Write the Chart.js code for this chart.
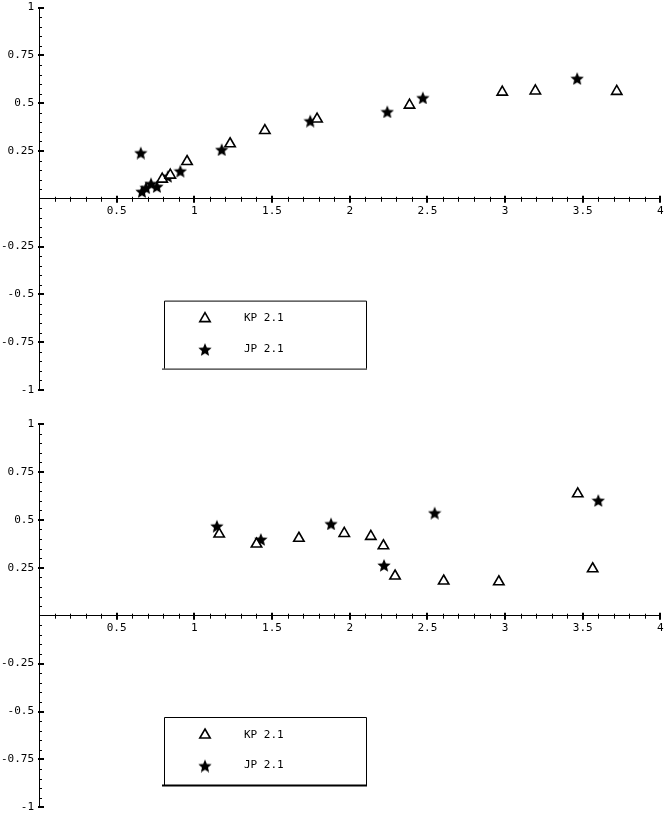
<!DOCTYPE html>
<html>
<head>
<meta charset="utf-8">
<script src="https://cdn.jsdelivr.net/npm/chart.js@4.4.1/dist/chart.umd.min.js"></script>
<style>
  body { margin: 0; background: #fff; }
  canvas { position: absolute; left: 0; }
</style>
</head>
<body>
<canvas id="topChart" width="668" height="405" style="top:0"></canvas>
<canvas id="bottomChart" width="668" height="410" style="top:405px"></canvas>
<script>
// legend names
const seriesNames = ["KP 2.1", "JP 2.1"];

// upper panel, [x, y]
const topKP = [
  [0.793, 0.103], [0.845, 0.124], [0.953, 0.195], [1.230, 0.288], [1.454, 0.357],
  [1.790, 0.417], [2.385, 0.490], [2.982, 0.558], [3.195, 0.564], [3.719, 0.562]
];
const topJP = [
  [0.655, 0.242], [0.663, 0.040], [0.689, 0.060], [0.721, 0.081], [0.759, 0.066],
  [0.829, 0.119], [0.910, 0.147], [1.176, 0.259], [1.746, 0.409], [2.242, 0.457],
  [2.471, 0.530], [3.464, 0.631]
];

// lower panel, [x, y]
const bottomKP = [
  [1.160, 0.426], [1.400, 0.374], [1.673, 0.404], [1.965, 0.429], [2.136, 0.414],
  [2.217, 0.365], [2.292, 0.207], [2.605, 0.181], [2.960, 0.177], [3.468, 0.636],
  [3.564, 0.245]
];
const bottomJP = [
  [1.145, 0.469], [1.428, 0.400], [1.880, 0.481], [2.221, 0.265], [2.547, 0.538],
  [3.600, 0.603]
];

// labelled ticks (minor ticks come from stepSize)
const xTickLabels = [0.5, 1, 1.5, 2, 2.5, 3, 3.5, 4];
const yTickLabels = [-1, -0.75, -0.5, -0.25, 0.25, 0.5, 0.75, 1];

const tickFont = { family: "DejaVu Sans Mono", size: 11 };

function starImage(size) {
  const c = document.createElement("canvas");
  c.width = c.height = size;
  const g = c.getContext("2d");
  const R = size / 2, r = R * 0.45;
  g.beginPath();
  for (let i = 0; i < 10; i++) {
    const a = -Math.PI / 2 + i * Math.PI / 5;
    const rr = i % 2 ? r : R;
    g.lineTo(R + rr * Math.cos(a), R + 1 + rr * Math.sin(a));
  }
  g.closePath();
  g.fillStyle = "#000";
  g.fill();
  return c;
}
const star = starImage(14);

function findLabel(v, list) {
  const m = list.find(t => Math.abs(t - v) < 1e-6);
  return m === undefined ? "" : String(m);
}

// tick marks crossing the axes, Mathematica style
const axisTicks = {
  id: "axisTicks",
  afterDraw(chart) {
    const { ctx, scales } = chart;
    const x0 = scales.x.getPixelForValue(0);
    const y0 = scales.y.getPixelForValue(0);
    ctx.save();
    ctx.strokeStyle = "#000";
    scales.x.ticks.forEach(t => {
      const px = Math.round(scales.x.getPixelForValue(t.value));
      const major = findLabel(t.value, xTickLabels) !== "";
      if (t.value === 0) return;
      ctx.lineWidth = major ? 2 : 1;
      ctx.beginPath();
      ctx.moveTo(px + (major ? 0 : 0.5), y0 - (major ? 3 : 2));
      ctx.lineTo(px + (major ? 0 : 0.5), y0 + (major ? 4 : 3));
      ctx.stroke();
    });
    scales.y.ticks.forEach(t => {
      const py = Math.round(scales.y.getPixelForValue(t.value));
      const major = findLabel(t.value, yTickLabels) !== "";
      if (t.value === 0) return;
      ctx.lineWidth = major ? 2 : 1;
      ctx.beginPath();
      ctx.moveTo(x0 - (major ? 1 : 0), py + (major ? 0 : 0.5));
      ctx.lineTo(x0 + (major ? 5 : 3), py + (major ? 0 : 0.5));
      ctx.stroke();
    });
    ctx.restore();
  }
};

const legendBox = {
  id: "legendBox",
  afterDraw(chart, args, opts) {
    const { ctx, chartArea } = chart;
    const x0 = chartArea.left + 125, y0 = chartArea.top + 293, w = 202, h = 68;
    ctx.save();
    ctx.strokeStyle = "#000";
    ctx.lineWidth = 1;
    ctx.beginPath();
    ctx.moveTo(x0 + 0.5, y0 + h);
    ctx.lineTo(x0 + 0.5, y0 + 0.5);
    ctx.lineTo(x0 + w + 0.5, y0 + 0.5);
    ctx.lineTo(x0 + w + 0.5, y0 + h);
    ctx.stroke();
    ctx.lineWidth = opts.bottomWidth || 1;
    ctx.beginPath();
    ctx.moveTo(x0 - 2, y0 + h + 0.5);
    ctx.lineTo(x0 + w + 1, y0 + h + 0.5);
    ctx.stroke();
    ctx.font = tickFont.size + "px '" + tickFont.family + "'";
    ctx.textBaseline = "middle";
    ctx.textAlign = "left";
    chart.data.datasets.forEach((ds, i) => {
      const y = y0 + 18 + i * 30.5;
      ctx.fillStyle = ds.backgroundColor;
      ctx.strokeStyle = ds.borderColor;
      ctx.lineWidth = ds.borderWidth;
      Chart.helpers.drawPoint(ctx, {
        pointStyle: ds.pointStyle, rotation: 0,
        radius: ds.pointRadius, borderWidth: ds.borderWidth
      }, x0 + 41, y);
      ctx.fillStyle = "#000";
      ctx.fillText(ds.label, x0 + 80, y);
    });
    ctx.restore();
  }
};

function makeChart(id, kp, jp, pad, bottomWidth) {
  return new Chart(document.getElementById(id), {
    type: "scatter",
    data: {
      datasets: [
        {
          label: seriesNames[0],
          data: kp.map(p => ({ x: p[0], y: p[1] })),
          pointStyle: "triangle",
          pointRadius: 6,
          borderWidth: 1.6,
          borderColor: "#000",
          backgroundColor: "#fff"
        },
        {
          label: seriesNames[1],
          data: jp.map(p => ({ x: p[0], y: p[1] })),
          pointStyle: star,
          pointRadius: 7,
          borderWidth: 0,
          borderColor: "#000",
          backgroundColor: "#000"
        }
      ]
    },
    options: {
      responsive: false,
      animation: false,
      devicePixelRatio: 1,
      layout: { padding: pad },
      plugins: {
        legend: { display: false },
        tooltip: { enabled: false },
        legendBox: { bottomWidth }
      },
      scales: {
        x: {
          type: "linear",
          min: 0, max: 4,
          position: { y: 0 },
          afterFit(s) { s.height = 0; s.paddingLeft = 0; s.paddingRight = 0; },
          ticks: {
            stepSize: 0.1,
            autoSkip: false,
            maxRotation: 0,
            padding: 6,
            color: "#000",
            font: tickFont,
            callback: v => findLabel(v, xTickLabels)
          },
          grid: { display: false, drawTicks: false },
          border: { color: "#000", width: 1 }
        },
        y: {
          type: "linear",
          min: -1, max: 1,
          position: "left",
          afterFit(s) { s.width = 39; s.paddingTop = 0; s.paddingBottom = 0; },
          ticks: {
            stepSize: 0.05,
            autoSkip: false,
            padding: 5,
            color: "#000",
            font: tickFont,
            callback: v => findLabel(v, yTickLabels)
          },
          grid: { display: false, drawTicks: false },
          border: { color: "#000", width: 1 }
        }
      }
    },
    plugins: [axisTicks, legendBox]
  });
}

makeChart("topChart", topKP, topJP, { left: 0, top: 5, right: 3, bottom: 15 }, 1);
makeChart("bottomChart", bottomKP, bottomJP, { left: 0, top: 19, right: 3, bottom: 5 }, 2);
</script>
</body>
</html>
